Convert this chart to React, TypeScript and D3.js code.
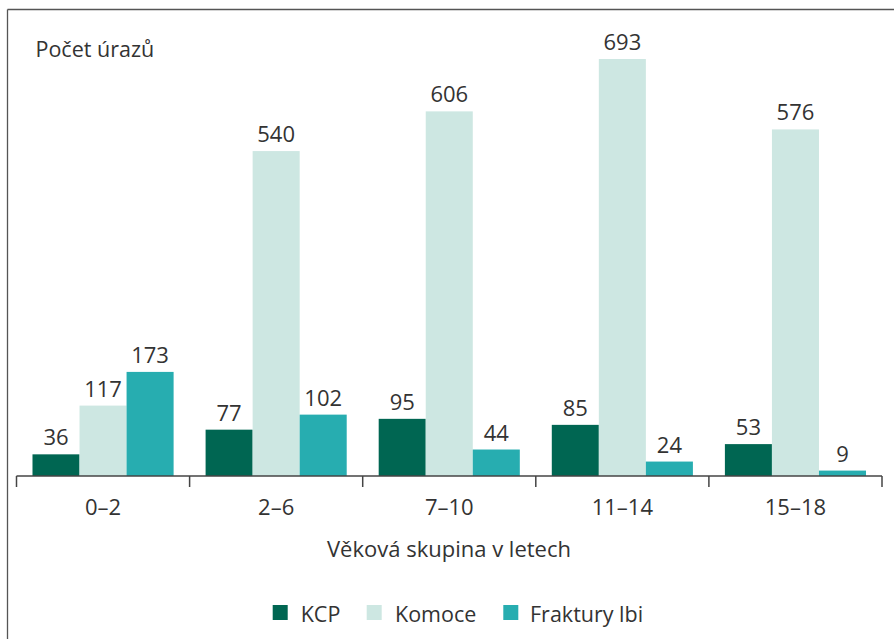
import React from "react";
import * as d3 from "d3";

const categories = ["0–2", "2–6", "7–10", "11–14", "15–18"];
const seriesNames = ["KCP", "Komoce", "Fraktury lbi"];
const kcp = [36, 77, 95, 85, 53];
const komoce = [117, 540, 606, 693, 576];
const fraktury = [173, 102, 44, 24, 9];
const colors = ["#006652", "#cde7e2", "#27adb0"];
const yTitle = "Počet úrazů";
const xTitle = "Věková skupina v letech";

export default function App() {
  const W = 894, H = 639;
  const baseY = 476;
  const pxPerUnit = 0.6017;
  const y = d3.scaleLinear().domain([0, 700]).range([baseY, baseY - 700 * pxPerUnit]);
  const x0 = d3.scaleBand<string>().domain(categories).range([16.5, 882]).paddingInner(0).paddingOuter(0);
  const x1 = d3.scaleBand<string>().domain(seriesNames).range([0, x0.bandwidth()]).paddingInner(0).paddingOuter(0.34);
  const data = [kcp, komoce, fraktury];
  const font = "'Open Sans', 'DejaVu Sans', sans-serif";
  const txt = "#333";
  const tickXs = [...categories.map((c) => x0(c)!), x0(categories[categories.length - 1])! + x0.bandwidth()];

  const legendItems = [
    { name: seriesNames[0], sx: 272.7, tx: 300.7 },
    { name: seriesNames[1], sx: 366.7, tx: 395 },
    { name: seriesNames[2], sx: 503.3, tx: 530 },
  ];

  return (
    <svg width={W} height={H} style={{ position: "absolute", left: 0, top: 0 }} fontFamily={font}>
      <rect x={0} y={0} width={W} height={H} fill="#fff" />
      <line x1={7.5} y1={9.5} x2={W} y2={9.5} stroke="#555" strokeWidth={1.3} />
      <line x1={7.5} y1={9.5} x2={7.5} y2={H} stroke="#555" strokeWidth={1.3} />
      <text x={35.5} y={57} fontSize={21.5} fill={txt}>{yTitle}</text>
      {categories.map((c, ci) =>
        data.map((arr, si) => {
          const v = arr[ci];
          const bx = x0(c)! + x1(seriesNames[si])!;
          const bw = x1.bandwidth();
          return (
            <g key={c + si}>
              <rect x={bx} y={y(v)} width={bw} height={baseY - y(v)} fill={colors[si]} />
              <text x={bx + bw / 2} y={y(v) - 9} textAnchor="middle" fontSize={22} fill={txt}>{v}</text>
            </g>
          );
        })
      )}
      <line x1={tickXs[0]} y1={baseY} x2={tickXs[tickXs.length - 1]} y2={baseY} stroke="#444" strokeWidth={1.5} />
      {tickXs.map((t, i) => (
        <line key={i} x1={t} y1={baseY} x2={t} y2={baseY + 11} stroke="#444" strokeWidth={1.5} />
      ))}
      {categories.map((c) => (
        <text key={c} x={x0(c)! + x0.bandwidth() / 2} y={515} textAnchor="middle" fontSize={22} fill={txt}>{c}</text>
      ))}
      <text x={449} y={557} textAnchor="middle" fontSize={22} fill={txt}>{xTitle}</text>
      {legendItems.map((l, i) => (
        <g key={l.name}>
          <rect x={l.sx} y={605} width={15} height={15} fill={colors[i]} />
          <text x={l.tx} y={621.5} fontSize={21.5} fill={txt}>{l.name}</text>
        </g>
      ))}
    </svg>
  );
}
